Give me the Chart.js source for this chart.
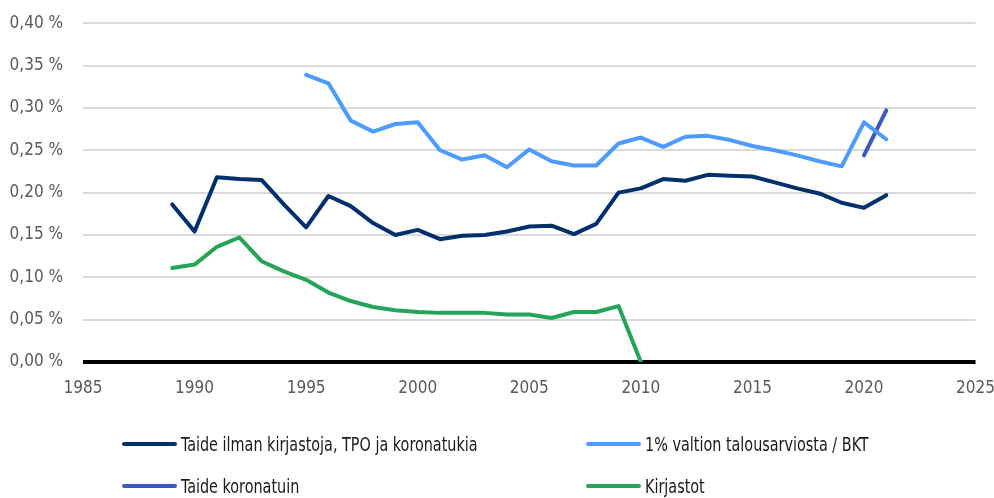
<!DOCTYPE html>
<html lang="fi">
<head>
<meta charset="UTF-8">
<title>Taiteen rahoitus suhteessa BKT:hen</title>
<script src="https://cdn.jsdelivr.net/npm/chart.js"></script>
<style>
  body { margin: 0; background: #fff; font-family: "Liberation Sans Narrow", "DejaVu Sans Condensed", sans-serif; }
  #wrap { position: relative; width: 994px; height: 498px; overflow: hidden; }
  #chartBox { position: absolute; left: 0; top: -7px; width: 1003px; height: 407px; }
  #legend { position: absolute; left: 0; top: 0; width: 994px; height: 498px; pointer-events: none; }
  .item { position: absolute; display: flex; align-items: center; font-size: 20px; color: #1a1a1a; white-space: nowrap; }
  .item span.swatch { display: inline-block; width: 55px; height: 4px; border-radius: 2px; margin-right: 4px; }
  .item span.txt { display: inline-block; transform: scaleX(0.8); transform-origin: left center; }
</style>
</head>
<body>
<div id="wrap">
  <div id="chartBox"><canvas id="chart"></canvas></div>
  <div id="legend"></div>
</div>

<script>
// vuodet
const years = [1989, 1990, 1991, 1992, 1993, 1994, 1995, 1996, 1997, 1998, 1999, 2000,
               2001, 2002, 2003, 2004, 2005, 2006, 2007, 2008, 2009, 2010,
               2011, 2012, 2013, 2014, 2015, 2016, 2017, 2018, 2019, 2020, 2021];

// % BKT:sta
const taideIlman = [0.186, 0.154, 0.218, 0.216, 0.215, 0.186, 0.159, 0.196, 0.184, 0.164, 0.150, 0.156,
                    0.145, 0.149, 0.150, 0.154, 0.160, 0.161, 0.151, 0.163, 0.200, 0.205,
                    0.216, 0.214, 0.221, 0.220, 0.219, 0.212, 0.205, 0.199, 0.188, 0.182, 0.197];

const yksiProsentti = [null, null, null, null, null, null, 0.339, 0.329, 0.285, 0.272, 0.281, 0.283,
                       0.250, 0.239, 0.244, 0.230, 0.251, 0.237, 0.232, 0.232, 0.258, 0.265,
                       0.254, 0.266, 0.267, 0.262, 0.255, 0.250, 0.244, 0.237, 0.231, 0.283, 0.263];

const taideKorona = [null, null, null, null, null, null, null, null, null, null, null, null,
                     null, null, null, null, null, null, null, null, null, null,
                     null, null, null, null, null, null, null, null, null, 0.244, 0.297];

const kirjastot = [0.111, 0.115, 0.136, 0.147, 0.119, 0.107, 0.097, 0.082, 0.072, 0.065, 0.061, 0.059,
                   0.058, 0.058, 0.058, 0.056, 0.056, 0.052, 0.059, 0.059, 0.066, 0.000,
                   null, null, null, null, null, null, null, null, null, null, null];

const xTicks = [1985, 1990, 1995, 2000, 2005, 2010, 2015, 2020, 2025];

function points(arr) {
    return years.map((y, i) => ({ x: y, y: arr[i] })).filter(p => p.y !== null);
}

const fontFam = '"Liberation Sans Narrow", "DejaVu Sans Condensed", sans-serif';

const datasets = [
    { label: 'Taide ilman kirjastoja, TPO ja koronatukia', data: points(taideIlman), borderColor: '#00306b' },
    { label: '1% valtion talousarviosta / BKT', data: points(yksiProsentti), borderColor: '#4d9bff' },
    { label: 'Taide koronatuin', data: points(taideKorona), borderColor: '#3b58c0' },
    { label: 'Kirjastot', data: points(kirjastot), borderColor: '#24a457' }
];
datasets.forEach(d => {
    d.borderWidth = 4;
    d.pointRadius = 0;
    d.fill = false;
    d.tension = 0;
    d.borderCapStyle = 'round';
    d.borderJoinStyle = 'round';
});

const ctx = document.getElementById('chart').getContext('2d');
const chart = new Chart(ctx, {
    type: 'line',
    data: { datasets: datasets },
    options: {
        responsive: true,
        maintainAspectRatio: false,
        animation: false,
        layout: { padding: 0 },
        plugins: { legend: { display: false }, tooltip: { enabled: false } },
        scales: {
            x: {
                type: 'linear',
                min: 1985,
                max: 2025,
                afterBuildTicks: s => { s.ticks = xTicks.map(v => ({ value: v })); },
                afterFit: s => { s.height = 38; },
                grid: { display: false },
                border: { display: false },
                ticks: {
                    padding: 8,
                    color: '#595959',
                    font: { family: fontFam, size: 17 },
                    callback: v => String(v)
                }
            },
            y: {
                min: 0,
                max: 0.40,
                afterFit: s => { s.width = 83; },
                border: { display: false },
                grid: {
                    drawTicks: false,
                    color: c => c.tick.value === 0 ? '#000000' : '#d9d9d9',
                    lineWidth: c => c.tick.value === 0 ? 4 : 2
                },
                ticks: {
                    stepSize: 0.05,
                    padding: 20,
                    color: '#595959',
                    font: { family: fontFam, size: 17 },
                    callback: v => v.toFixed(2).replace('.', ',') + ' %'
                }
            }
        }
    }
});

// legend kahdessa sarakkeessa
const legendPos = [[122, 444], [586, 444], [122, 486], [586, 486]];
const legendEl = document.getElementById('legend');
chart.data.datasets.forEach((d, i) => {
    const it = document.createElement('div');
    it.className = 'item';
    it.style.left = legendPos[i][0] + 'px';
    it.style.top = (legendPos[i][1] - 13) + 'px';
    it.style.height = '26px';
    const sw = document.createElement('span');
    sw.className = 'swatch';
    sw.style.background = d.borderColor;
    const tx = document.createElement('span');
    tx.className = 'txt';
    tx.textContent = d.label;
    it.appendChild(sw);
    it.appendChild(tx);
    legendEl.appendChild(it);
});
</script>
</body>
</html>
